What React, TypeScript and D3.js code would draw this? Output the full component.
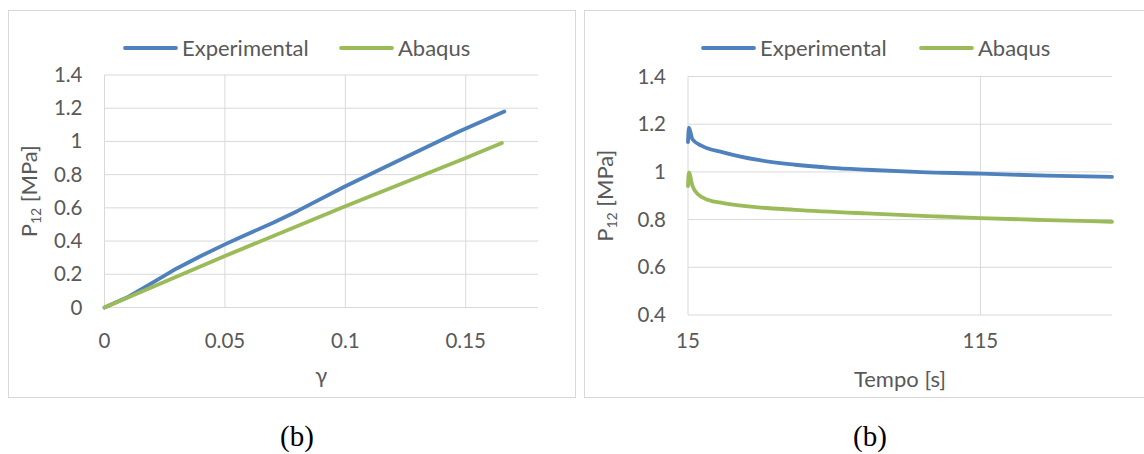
import React from "react";
import * as d3 from "d3";

// ---- Left chart data (shear stress vs shear strain) ----
const gammaExp = [0, 0.01, 0.02, 0.03, 0.04, 0.05, 0.056, 0.07, 0.08, 0.1, 0.12, 0.147, 0.166];
const p12Exp = [0, 0.065, 0.15, 0.235, 0.31, 0.38, 0.42, 0.51, 0.58, 0.73, 0.87, 1.058, 1.18];
const gammaAbq = [0, 0.05, 0.1, 0.15, 0.165];
const p12Abq = [0, 0.31, 0.61, 0.9, 0.99];

// ---- Right chart data (relaxation vs time) ----
const timeExp = [15, 15.3, 16.5, 19.6, 27, 39, 51.6, 64, 76, 94.7, 115, 137.8, 160];
const relaxExp = [1.125, 1.186, 1.137, 1.11, 1.082, 1.05, 1.03, 1.017, 1.009, 0.999, 0.993, 0.984, 0.979];
const timeAbq = [15, 15.3, 16.5, 18.3, 22, 27, 39, 51.6, 76, 100.8, 115, 137.8, 160];
const relaxAbq = [0.94, 0.998, 0.942, 0.907, 0.882, 0.869, 0.851, 0.841, 0.826, 0.813, 0.806, 0.798, 0.791];

const leftXTicks = [0, 0.05, 0.1, 0.15];
const leftYTicks = [0, 0.2, 0.4, 0.6, 0.8, 1, 1.2, 1.4];
const rightXTicks = [15, 115];
const rightYTicks = [0.4, 0.6, 0.8, 1, 1.2, 1.4];
const seriesNames = ["Experimental", "Abaqus"];
const seriesColors = ["#4F81BD", "#9BBB59"];

const FONT = "Lato, 'Open Sans', sans-serif";
const TXT = "#595959";
const GRID = "#D9D9D9";

type Pt = [number, number];
const zip = (a: number[], b: number[]): Pt[] => a.map((v, i) => [v, b[i]]);

interface PanelProps {
  box: [number, number, number, number];
  plot: [number, number, number, number]; // x0, x1, y0(top), y1(bottom)
  xDomain: [number, number];
  yDomain: [number, number];
  xTicks: number[];
  yTicks: number[];
  xLabel: React.ReactNode;
  xLabelY: number;
  yLabelX: number;
  series: Pt[][];
  curve: d3.CurveFactory;
  legendX: number[];
  caption: number;
}

function Panel(p: PanelProps) {
  const [bx0, by0, bx1, by1] = p.box;
  const [px0, px1, py0, py1] = p.plot;
  const x = d3.scaleLinear().domain(p.xDomain).range([px0, px1]);
  const y = d3.scaleLinear().domain(p.yDomain).range([py1, py0]);
  const line = d3
    .line<Pt>()
    .x((d) => x(d[0]))
    .y((d) => y(d[1]))
    .curve(p.curve);
  const fmt = (v: number) => String(+v.toFixed(2));
  const yMid = (py0 + py1) / 2;
  return (
    <g>
      <rect x={bx0 + 0.5} y={by0 + 0.5} width={bx1 - bx0} height={by1 - by0} fill="#fff" stroke={GRID} strokeWidth={1} />
      {p.yTicks.map((t) => (
        <line key={"gy" + t} x1={px0} x2={px1} y1={y(t)} y2={y(t)} stroke={GRID} strokeWidth={1} />
      ))}
      {p.xTicks.map((t) => (
        <line key={"gx" + t} x1={x(t)} x2={x(t)} y1={py0} y2={py1} stroke={GRID} strokeWidth={1} />
      ))}
      {p.yTicks.map((t) => (
        <text key={"ty" + t} x={px0 - 22} y={y(t) + 7} textAnchor="end" fontFamily={FONT} fontSize={20.5} fill={TXT}>
          {fmt(t)}
        </text>
      ))}
      {p.xTicks.map((t) => (
        <text key={"tx" + t} x={x(t)} y={348} textAnchor="middle" fontFamily={FONT} fontSize={20.5} fill={TXT}>
          {fmt(t)}
        </text>
      ))}
      {p.series.map((s, i) => (
        <path
          key={"s" + i}
          d={line(s) || ""}
          fill="none"
          stroke={seriesColors[i]}
          strokeWidth={3.8}
          strokeLinecap="round"
          strokeLinejoin="round"
        />
      ))}
      <text x={(px0 + px1) / 2} y={p.xLabelY} textAnchor="middle" fontFamily={FONT} fontSize={22} fill={TXT}>
        {p.xLabel}
      </text>
      <text
        transform={`translate(${p.yLabelX},${yMid}) rotate(-90)`}
        textAnchor="middle"
        fontFamily={FONT}
        fontSize={22}
        fill={TXT}
      >
        P<tspan fontSize={14} dy={4}>12</tspan>
        <tspan dy={-4}> [MPa]</tspan>
      </text>
      {seriesNames.map((n, i) => (
        <g key={"lg" + i}>
          <line
            x1={p.legendX[i]}
            x2={p.legendX[i] + 51}
            y1={48}
            y2={48}
            stroke={seriesColors[i]}
            strokeWidth={3.8}
            strokeLinecap="round"
          />
          <text x={p.legendX[i] + 57} y={55.5} fontFamily={FONT} fontSize={22} fill={TXT}>
            {n}
          </text>
        </g>
      ))}
      <text x={p.caption} y={446} textAnchor="middle" fontFamily="'Liberation Serif', 'Times New Roman', serif" fontSize={29} fill="#000">
        (b)
      </text>
    </g>
  );
}

export default function App() {
  return (
    <svg
      width={1144}
      height={454}
      viewBox="0 0 1144 454"
      style={{ position: "absolute", left: 0, top: 0, background: "#fff" }}
    >
      <rect x={0} y={0} width={1144} height={454} fill="#fff" />
      <Panel
        box={[8, 10, 575, 397]}
        plot={[104.5, 538, 75, 307.5]}
        xDomain={[0, 0.18]}
        yDomain={[0, 1.4]}
        xTicks={leftXTicks}
        yTicks={leftYTicks}
        xLabel="γ"
        xLabelY={383}
        yLabelX={37}
        series={[zip(gammaExp, p12Exp), zip(gammaAbq, p12Abq)]}
        curve={d3.curveLinear}
        legendX={[125, 341]}
        caption={297}
      />
      <Panel
        box={[584, 10, 1150, 397]}
        plot={[688, 1112, 76.5, 315]}
        xDomain={[15, 160]}
        yDomain={[0.4, 1.4]}
        xTicks={rightXTicks}
        yTicks={rightYTicks}
        xLabel="Tempo [s]"
        xLabelY={387}
        yLabelX={613}
        series={[zip(timeExp, relaxExp), zip(timeAbq, relaxAbq)]}
        curve={d3.curveMonotoneX}
        legendX={[703, 921]}
        caption={870}
      />
    </svg>
  );
}
